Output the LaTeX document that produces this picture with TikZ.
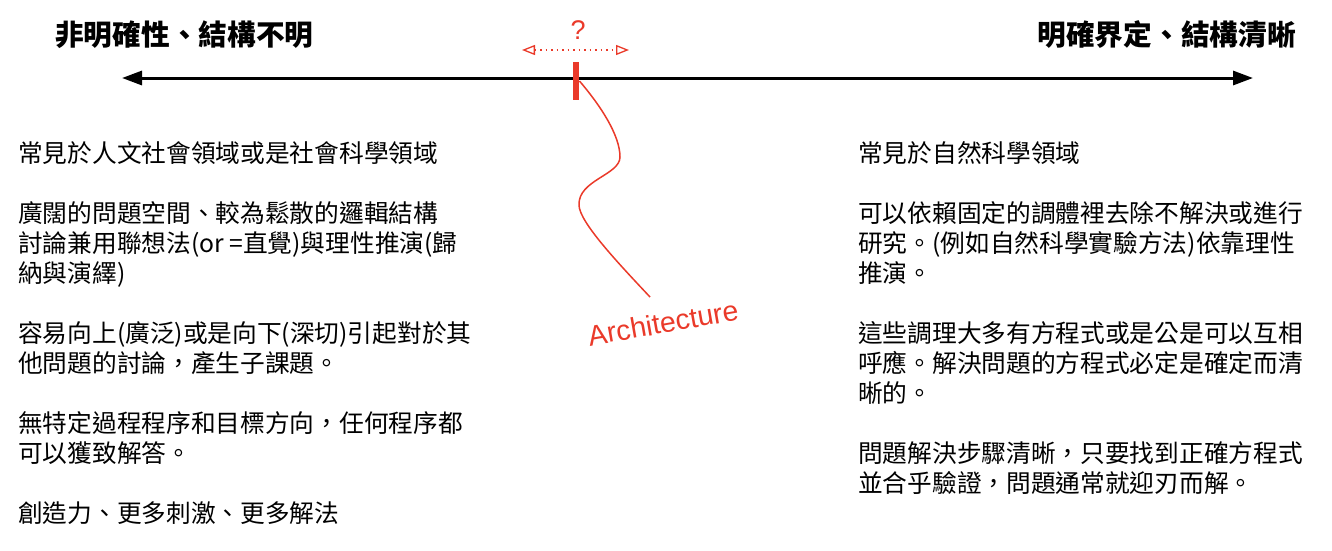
\documentclass[tikz,border=0pt]{standalone}
\usepackage{fontspec}
\usepackage{xcolor}
\usepackage{tikz}
\usetikzlibrary{arrows.meta}
\setmainfont{Noto Sans CJK TC}
\newfontfamily\arial{Liberation Sans}
\definecolor{archred}{HTML}{EA3A2A}

\tikzset{
	body/.style={anchor=base west,inner sep=0pt,align=left,font=\fontsize{24.7}{30}\selectfont},
	title/.style={inner sep=0pt,font=\bfseries\fontsize{28.7}{34}\selectfont},
	bigtip/.tip={Triangle[length=20pt,width=14pt]},
	opentip/.tip={Triangle[open,length=13pt,width=10pt,line width=1.3pt]}
}

\begin{document}
\begin{tikzpicture}[x=1pt,y=-1pt]
			\useasboundingbox (0,0) rectangle (1332,550);
			% 两端标题
			\node[title,anchor=base west] (T1) at (55,45.4) {非明確性、結構不明};
			\node[title,anchor=base east] (T2) at (1296,45.4) {明確界定、結構清晰};
			% 主轴
			\coordinate (P) at (122,78);
			\coordinate (Q) at (1253,78);
			\draw[line width=3pt,bigtip-bigtip] (P) -- (Q);
			% 红色标记与问号
			\node[fill=archred,minimum width=6.5pt,minimum height=38pt,inner sep=0pt] (M) at (576,81) {};
			\node[text=archred,font=\arial\fontsize{27}{30}\selectfont] (W) at (578,30) {?};
			\coordinate (D1) at (522,50);
			\coordinate (D2) at (629,50);
			\draw[archred,line width=1.3pt,dash pattern=on 1.5pt off 4pt,opentip-opentip] (D1) -- (D2);
			% 曲线与文字
			\coordinate (E) at (650,297);
			\draw[archred,line width=1.5pt] (M.east) .. controls (600,105) and (620,135) .. (620,157)
			.. controls (620,175) and (578,180) .. (579,205)
			.. controls (579,222) and (620,265) .. (E);
			\node[text=archred,font=\arial\fontsize{28.5}{30}\selectfont,rotate=10] (A) at (663,323) {Architecture};
			% 左栏 (base 取最后一行)
			\node[body] (L1) at (18,162.4) {常見於人文社會領域或是社會科學領域};
			\node[body] (L2) at (18,282.4) {廣闊的問題空間、較為鬆散的邏輯結構\\討論兼用聯想法(or =直覺)與理性推演(歸\\納與演繹)};
			\node[body] (L3) at (18,372.4) {容易向上(廣泛)或是向下(深切)引起對於其\\他問題的討論，產生子課題。};
			\node[body] (L4) at (18,462.4) {無特定過程程序和目標方向，任何程序都\\可以獲致解答。};
			\node[body] (L5) at (18,522.4) {創造力、更多刺激、更多解法};
			% 右栏
			\node[body] (R1) at (858,162.4) {常見於自然科學領域};
			\node[body] (R2) at (858,282.4) {可以依賴固定的調體裡去除不解決或進行\\研究。(例如自然科學實驗方法)依靠理性\\推演。};
			\node[body] (R3) at (858,402.4) {這些調理大多有方程式或是公是可以互相\\呼應。解決問題的方程式必定是確定而清\\晰的。};
			\node[body] (R4) at (858,492.4) {問題解決步驟清晰，只要找到正確方程式\\並合乎驗證，問題通常就迎刃而解。};
		\end{tikzpicture}
\end{document}
